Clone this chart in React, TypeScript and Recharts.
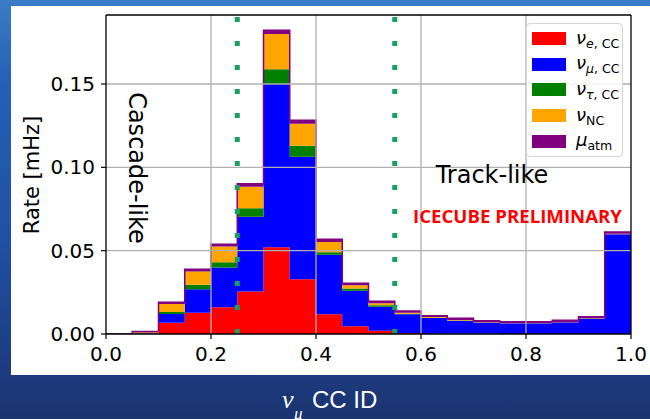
import React from 'react'
import {
  ComposedChart,
  Area,
  XAxis,
  YAxis,
  ReferenceLine,
  Legend,
} from 'recharts'

// bin left edges (width 0.05); the final 1.0 point closes the last step
const binEdges = [
  0, 0.05, 0.1, 0.15, 0.2, 0.25, 0.3, 0.35, 0.4, 0.45, 0.5, 0.55, 0.6, 0.65,
  0.7, 0.75, 0.8, 0.85, 0.9, 0.95,
]

// rate per bin in mHz, stacked bottom to top
const nueCC = [
  0, 0.0002, 0.0068, 0.0128, 0.016, 0.0255, 0.052, 0.0329, 0.0118, 0.0046,
  0.002, 0.0006, 0.0002, 0.0001, 0.0001, 0, 0, 0, 0, 0,
]
const numuCC = [
  0, 0.0002, 0.0052, 0.0141, 0.0239, 0.0449, 0.098, 0.0734, 0.0357, 0.0213,
  0.0144, 0.0112, 0.0094, 0.0079, 0.0067, 0.0064, 0.0064, 0.007, 0.0092, 0.0598,
]
const nutauCC = [
  0, 0.0001, 0.0012, 0.0026, 0.0032, 0.005, 0.0088, 0.0066, 0.0015, 0.0014,
  0.0008, 0.0004, 0.0002, 0.0001, 0.0001, 0.0001, 0.0001, 0.0001, 0.0001, 0.0001,
]
const nuNC = [
  0, 0.0006, 0.0048, 0.008, 0.0094, 0.013, 0.0212, 0.0133, 0.0062, 0.002,
  0.0013, 0.0006, 0.0004, 0.0003, 0.0002, 0.0001, 0.0001, 0.0001, 0.0002, 0.0002,
]
const muAtm = [
  0, 0.0004, 0.001, 0.0014, 0.0013, 0.0017, 0.0023, 0.002, 0.0016, 0.0012,
  0.0012, 0.001, 0.0008, 0.001, 0.0009, 0.0008, 0.0008, 0.001, 0.0009, 0.0011,
]

const xTicks = [0, 0.2, 0.4, 0.6, 0.8, 1.0]
const yTicks = [0, 0.05, 0.1, 0.15]
const cutValues = [0.25, 0.55]

const series = [
  { key: 'nueCC', color: '#ff0000', sym: 'ν', sub: 'e', subRest: ', CC' },
  { key: 'numuCC', color: '#0000ff', sym: 'ν', sub: 'μ', subRest: ', CC' },
  { key: 'nutauCC', color: '#008000', sym: 'ν', sub: 'τ', subRest: ', CC' },
  { key: 'nuNC', color: '#ffa500', sym: 'ν', sub: '', subRest: 'NC' },
  { key: 'muAtm', color: '#800080', sym: 'μ', sub: '', subRest: 'atm' },
]

const rows = binEdges.map((x, i) => ({
  x,
  nueCC: nueCC[i],
  numuCC: numuCC[i],
  nutauCC: nutauCC[i],
  nuNC: nuNC[i],
  muAtm: muAtm[i],
}))
const last = binEdges.length - 1
const data = [...rows, { ...rows[last], x: 1.0 }]

const FONT = '"DejaVu Sans", sans-serif'
const GRID = '#b0b0b0'

function LegendBox() {
  return (
    <div
      style={{
        width: 97,
        height: 134,
        border: '1px solid #d6d6d6',
        borderRadius: 4,
        background: 'rgba(255,255,255,0.85)',
        fontFamily: FONT,
        boxSizing: 'border-box',
        paddingTop: 2,
        textAlign: 'left',
      }}
    >
      {series.map((s) => (
        <div
          key={s.key}
          style={{
            display: 'flex',
            alignItems: 'center',
            height: 25.6,
            paddingLeft: 5,
            whiteSpace: 'nowrap',
          }}
        >
          <div style={{ width: 34, height: 13, background: s.color, flex: 'none' }} />
          <div
            style={{
              marginLeft: 10,
              fontSize: 18,
              lineHeight: '18px',
              color: '#000',
              whiteSpace: 'nowrap',
            }}
          >
            <span style={{ fontStyle: 'italic' }}>{s.sym}</span>
            <span style={{ fontSize: 12.5, position: 'relative', top: 4 }}>
              {s.sub && <span style={{ fontStyle: 'italic' }}>{s.sub}</span>}
              {s.subRest}
            </span>
          </div>
        </div>
      ))}
    </div>
  )
}

export default function App() {
  return (
    <div
      style={{
        position: 'absolute',
        left: 0,
        top: 0,
        width: 650,
        height: 419,
        overflow: 'hidden',
        background:
          'linear-gradient(180deg, #3a7cc8 0%, #2460b4 20%, #1f52a6 55%, #1d3c80 88%, #1b336f 100%)',
      }}
    >
      <div style={{ position: 'absolute', left: 11, top: 6, width: 639, height: 369, background: '#fff' }}>
        <ComposedChart
          width={639}
          height={369}
          data={data}
          margin={{ top: 9, right: 19, left: 0, bottom: 0 }}
        >
          <XAxis
            dataKey="x"
            type="number"
            domain={[0, 1]}
            ticks={xTicks}
            tickFormatter={(v: number) => v.toFixed(1)}
            height={41}
            tickSize={5}
            tickMargin={8}
            axisLine={{ stroke: '#000', strokeWidth: 1.3 }}
            tickLine={{ stroke: '#000', strokeWidth: 1.2 }}
            tick={{ fill: '#000', fontSize: 20, fontFamily: FONT }}
            allowDataOverflow
          />
          <YAxis
            type="number"
            domain={[0, 0.1914]}
            ticks={yTicks}
            tickFormatter={(v: number) => v.toFixed(2)}
            width={95}
            tickSize={5}
            tickMargin={6}
            axisLine={{ stroke: '#000', strokeWidth: 1.3 }}
            tickLine={{ stroke: '#000', strokeWidth: 1.2 }}
            tick={{ fill: '#000', fontSize: 20, fontFamily: FONT }}
            allowDataOverflow
          />
          {series.map((s) => (
            <Area
              key={s.key}
              dataKey={s.key}
              stackId="rate"
              type="stepAfter"
              fill={s.color}
              fillOpacity={1}
              stroke={s.key === 'muAtm' ? s.color : 'none'}
              strokeWidth={1.5}
              isAnimationActive={false}
              dot={false}
              activeDot={false}
            />
          ))}
          {/* grid drawn over the histogram */}
          {xTicks.slice(1, -1).map((t) => (
            <ReferenceLine key={`gx${t}`} x={t} stroke={GRID} strokeWidth={1.3} />
          ))}
          {yTicks.slice(1).map((t) => (
            <ReferenceLine key={`gy${t}`} y={t} stroke={GRID} strokeWidth={1.3} />
          ))}
          {cutValues.map((c) => (
            <ReferenceLine
              key={`cut${c}`}
              x={c}
              stroke="#1a9e62"
              strokeWidth={5}
              strokeDasharray="5 19"
            />
          ))}
          <ReferenceLine y={0.1914} stroke="#000" strokeWidth={1.3} />
          <ReferenceLine x={1} stroke="#000" strokeWidth={1.3} />
          <Legend
            layout="vertical"
            align="center"
            verticalAlign="middle"
            content={() => <LegendBox />}
            wrapperStyle={{ position: 'absolute', left: 515, top: 17, width: 97, height: 134 }}
          />
        </ComposedChart>
      </div>
      <svg
        width={650}
        height={419}
        style={{ position: 'absolute', left: 0, top: 0, pointerEvents: 'none' }}
      >
        <text
          transform="translate(39,175) rotate(-90)"
          textAnchor="middle"
          fontFamily={FONT}
          fontSize={21}
          fill="#000"
        >
          Rate [mHz]
        </text>
        <text
          transform="translate(129,168) rotate(90)"
          textAnchor="middle"
          fontFamily={FONT}
          fontSize={24}
          fill="#000"
        >
          Cascade-like
        </text>
        <text x={492} y={183} textAnchor="middle" fontFamily={FONT} fontSize={24} fill="#000">
          Track-like
        </text>
        <text
          x={413}
          y={223}
          fontFamily='"Open Sans", sans-serif'
          fontWeight="bold"
          fontSize={17}
          fill="#ff0000"
          textLength={209}
          lengthAdjust="spacingAndGlyphs"
        >
          ICECUBE PRELIMINARY
        </text>
        <text x={282} y={408} fontFamily='"Liberation Serif", serif' fontStyle="italic" fontSize={26} fill="#fff">
          ν
        </text>
        <text x={294} y={419} fontFamily='"Liberation Serif", serif' fontStyle="italic" fontSize={17} fill="#fff">
          μ
        </text>
        <text x={312} y={408} fontFamily='"Liberation Sans", Arial, sans-serif' fontSize={24} fill="#fff">
          CC ID
        </text>
      </svg>
    </div>
  )
}
